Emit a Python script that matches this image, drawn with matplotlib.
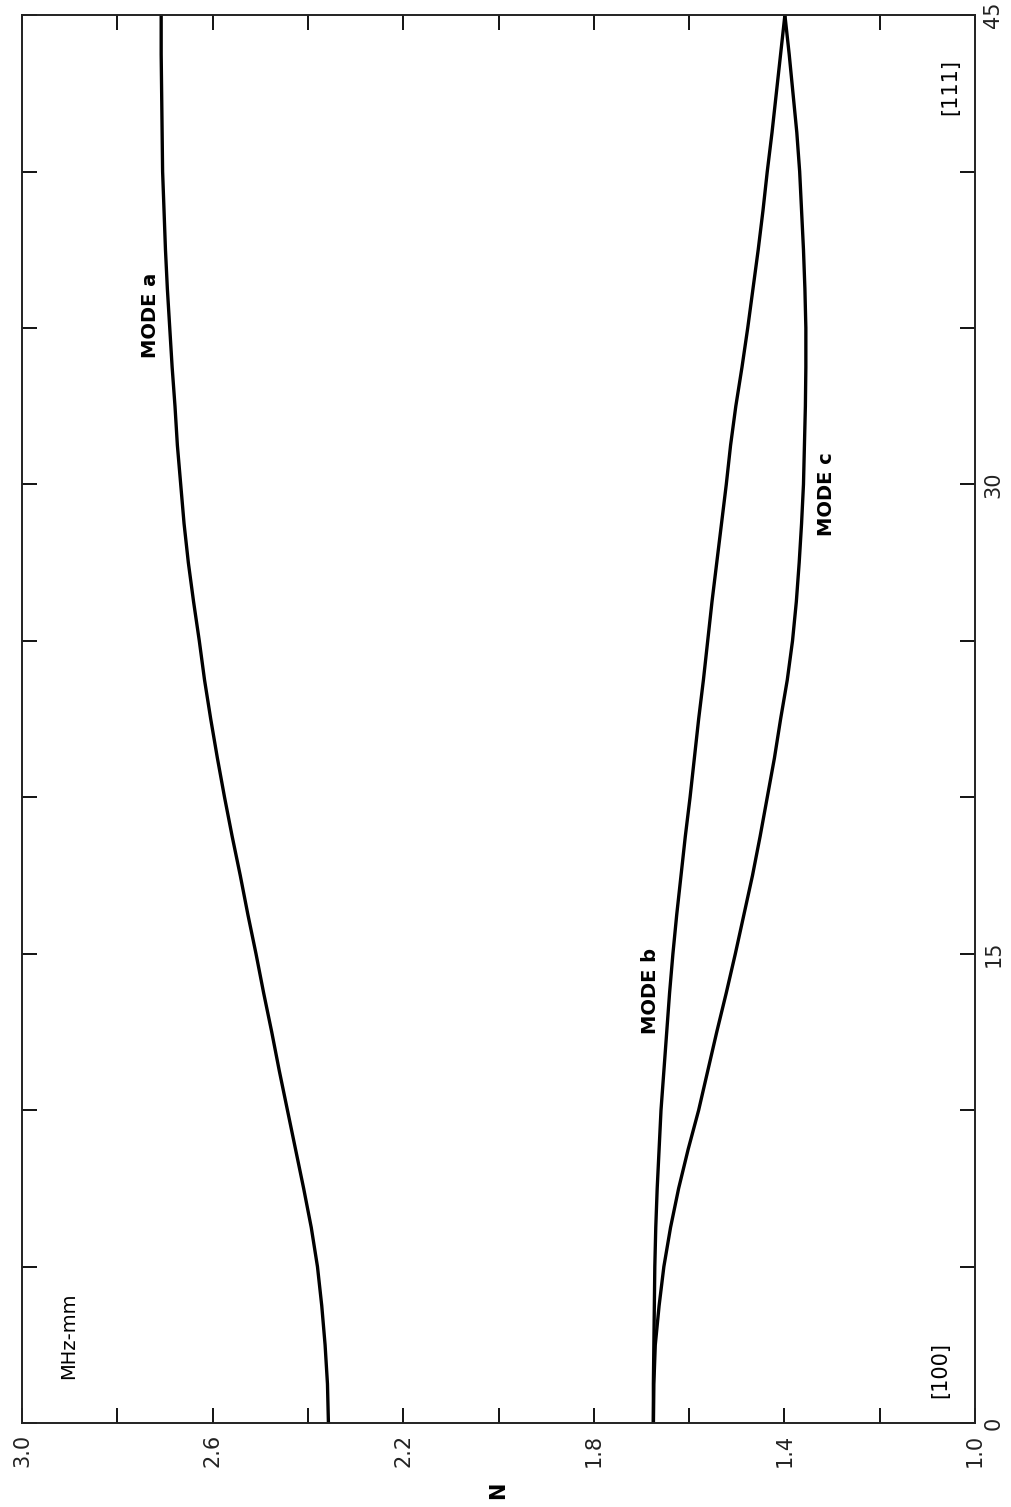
import matplotlib
matplotlib.use('Agg')
import matplotlib.pyplot as plt

# angle from [100] towards [111], degrees (drawn bottom -> top)
angle = [0, 1.25, 2.5, 3.75, 5, 6.25, 7.5, 8.75, 10, 11.25, 12.5, 13.75,
         15, 16.25, 17.5, 18.75, 20, 21.25, 22.5, 23.75, 25, 26.25, 27.5, 28.75,
         30, 31.25, 32.5, 33.75, 35, 36.25, 37.5, 38.75, 40, 41.25, 42.5, 43.75, 45]

# N, MHz-mm
mode_a = [2.357, 2.359, 2.364, 2.371, 2.380, 2.393, 2.409, 2.426, 2.443, 2.460,
          2.476, 2.493, 2.509, 2.526, 2.542, 2.559, 2.575, 2.590, 2.604, 2.617,
          2.628, 2.640, 2.651, 2.660, 2.667, 2.674, 2.679, 2.685, 2.690, 2.695,
          2.699, 2.702, 2.705, 2.706, 2.707, 2.708, 2.708]
mode_b = [1.675, 1.675, 1.674, 1.673, 1.672, 1.670, 1.667, 1.663, 1.659, 1.653,
          1.647, 1.641, 1.634, 1.626, 1.617, 1.608, 1.598, 1.589, 1.580, 1.570,
          1.561, 1.552, 1.542, 1.532, 1.522, 1.513, 1.502, 1.489, 1.477, 1.466,
          1.455, 1.445, 1.436, 1.426, 1.417, 1.408, 1.399]
mode_c = [1.675, 1.674, 1.671, 1.663, 1.653, 1.639, 1.622, 1.602, 1.580, 1.561,
          1.542, 1.522, 1.503, 1.485, 1.467, 1.451, 1.436, 1.421, 1.408, 1.394,
          1.383, 1.375, 1.369, 1.364, 1.360, 1.358, 1.356, 1.355, 1.355, 1.357,
          1.360, 1.364, 1.368, 1.374, 1.382, 1.390, 1.399]

n_ticks = [1.0, 1.2, 1.4, 1.6, 1.8, 2.0, 2.2, 2.4, 2.6, 2.8, 3.0]
n_labels = ['1.0', '', '1.4', '', '1.8', '', '2.2', '', '2.6', '', '3.0']
angle_ticks = [0, 5, 10, 15, 20, 25, 30, 35, 40, 45]
angle_labels = ['0', '', '', '15', '', '', '30', '', '', '45']

plt.rcParams['font.family'] = ['DejaVu Sans']

fig = plt.figure(figsize=(10.11, 15.07), dpi=100)
ax = fig.add_axes([0.0218, 0.0557, 0.9426, 0.9343])

# the chart is turned a quarter: N runs right -> left, angle bottom -> top
for vals in (mode_a, mode_b, mode_c):
    ax.plot(vals, angle, color='black', lw=2.4, solid_joinstyle='round')

ax.set_xlim(3.0, 1.0)
ax.set_ylim(0, 45)

ax.set_xticks(n_ticks)
ax.set_xticklabels(n_labels, rotation=90, fontsize=15, color='#222222')
ax.set_yticks(angle_ticks)
ax.set_yticklabels(angle_labels, rotation=90, fontsize=15, color='#222222', va='center')

ax.tick_params(axis='both', direction='in', length=11, width=1.3,
               top=True, bottom=True, left=True, right=True,
               labelleft=False, labelright=True, labelbottom=True, labeltop=False)
ax.tick_params(axis='x', pad=8)
ax.tick_params(axis='y', pad=6)

for s in ax.spines.values():
    s.set_linewidth(1.4)
    s.set_color('#222222')

ax.set_xlabel('N', rotation=90, fontsize=15, fontweight='bold', labelpad=10)

# labels on the curves
ax.text(2.731, 35.4, 'MODE a', rotation=90, fontsize=14, fontweight='bold', ha='center', va='center')
ax.text(1.682, 13.8, 'MODE b', rotation=90, fontsize=14, fontweight='bold', ha='center', va='center')
ax.text(1.311, 29.7, 'MODE c', rotation=90, fontsize=14, fontweight='bold', ha='center', va='center')
ax.text(2.903, 2.8, 'MHz-mm', rotation=90, fontsize=14, ha='center', va='center')
ax.text(1.073, 1.7, '[100]', rotation=90, fontsize=15, ha='center', va='center')
ax.text(1.052, 42.7, '[111]', rotation=90, fontsize=15, ha='center', va='center')

fig.savefig('out.png', dpi=100, facecolor='white')
